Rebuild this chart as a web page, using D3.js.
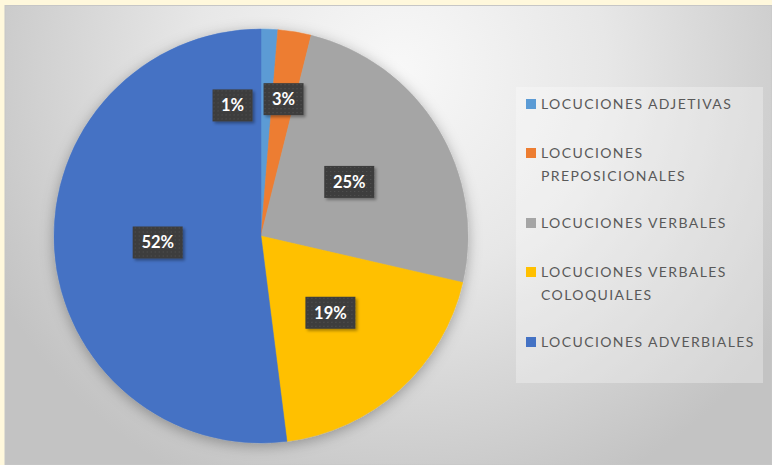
<!DOCTYPE html>
<html>
<head>
<meta charset="utf-8">
<script src="https://cdn.jsdelivr.net/npm/d3@7"></script>
<style>
  html, body { margin: 0; padding: 0; background: #fff8dc; }
  svg { display: block; }
</style>
</head>
<body>
<svg id="chart"></svg>
<script>
// data (percent of total, clockwise from 12 o'clock)
const categories = [
    "LOCUCIONES ADJETIVAS",
    "LOCUCIONES PREPOSICIONALES",
    "LOCUCIONES VERBALES",
    "LOCUCIONES VERBALES COLOQUIALES",
    "LOCUCIONES ADVERBIALES"
];
const values = [1.3, 2.6, 24.7, 19.4, 52.0];
const colors = ["#5b9bd5", "#ed7d31", "#a5a5a5", "#ffc000", "#4472c4"];
// legend text broken as in the picture
const legendLines = [
    ["LOCUCIONES ADJETIVAS"],
    ["LOCUCIONES", "PREPOSICIONALES"],
    ["LOCUCIONES VERBALES"],
    ["LOCUCIONES VERBALES", "COLOQUIALES"],
    ["LOCUCIONES ADVERBIALES"]
];

const width = 772;
const height = 465;
const cx = 261, cy = 236, radius = 207;

const svg = d3.select("#chart")
    .attr("width", width)
    .attr("height", height);

const defs = svg.append("defs");

// chart background gradient
const bg = defs.append("radialGradient")
    .attr("id", "bg")
    .attr("gradientUnits", "userSpaceOnUse")
    .attr("cx", 400).attr("cy", 70).attr("r", 460);
bg.append("stop").attr("offset", 0).attr("stop-color", "#f8f8f8");
bg.append("stop").attr("offset", 0.45).attr("stop-color", "#e7e7e7");
bg.append("stop").attr("offset", 1).attr("stop-color", "#c3c3c3");

const pieShadow = defs.append("filter").attr("id", "pieShadow")
    .attr("x", "-20%").attr("y", "-20%").attr("width", "140%").attr("height", "140%");
pieShadow.append("feDropShadow")
    .attr("dx", 0).attr("dy", 3).attr("stdDeviation", 7)
    .attr("flood-color", "#000").attr("flood-opacity", 0.3);

const boxShadow = defs.append("filter").attr("id", "boxShadow")
    .attr("x", "-30%").attr("y", "-30%").attr("width", "160%").attr("height", "160%");
boxShadow.append("feDropShadow")
    .attr("dx", 2).attr("dy", 2).attr("stdDeviation", 1.5)
    .attr("flood-color", "#000").attr("flood-opacity", 0.35);

// dotted texture of the label boxes
const dots = defs.append("pattern")
    .attr("id", "dots")
    .attr("patternUnits", "userSpaceOnUse")
    .attr("width", 4).attr("height", 4);
dots.append("rect").attr("width", 4).attr("height", 4).attr("fill", "#3d3d3d");
dots.append("rect").attr("x", 1).attr("y", 1).attr("width", 1).attr("height", 1).attr("fill", "#555");

svg.append("rect")
    .attr("x", 5).attr("y", 5.5)
    .attr("width", width - 5).attr("height", height - 5.5)
    .attr("fill", "url(#bg)")
    .attr("stroke", "#c6c6c6")
    .attr("stroke-width", 1);

// pie
const pie = d3.pie().sort(null).value(d => d);
const arcs = pie(values);
const arc = d3.arc().innerRadius(0).outerRadius(radius);

const g = svg.append("g").attr("transform", `translate(${cx},${cy})`);

g.append("g")
    .attr("filter", "url(#pieShadow)")
    .selectAll("path")
    .data(arcs)
    .enter()
    .append("path")
    .attr("d", arc)
    .attr("fill", (d, i) => colors[i])
    .attr("stroke", (d, i) => colors[i])
    .attr("stroke-width", 0.5);

// data labels: centroid at half radius, small slices pushed outward
const labelArc = d3.arc().innerRadius(radius * 0.5).outerRadius(radius * 0.5);
const outerLabelArc = d3.arc().innerRadius(radius * 0.67).outerRadius(radius * 0.67);
const boxH = 32;
const boxW = d => d.data >= 9.5 ? 50 : 40;

const labels = arcs.map(d => {
    const small = d.data < 5;
    const [x, y] = small ? outerLabelArc.centroid(d) : labelArc.centroid(d);
    return { d, x, y, w: boxW(d) };
});
// simple overlap fix: move earlier small label left/down from the next one
for (let i = labels.length - 2; i >= 0; i--) {
    const a = labels[i], b = labels[i + 1];
    const overlapX = (a.w + b.w) / 2 + 4 - Math.abs(a.x - b.x);
    const overlapY = boxH - Math.abs(a.y - b.y);
    if (overlapX > 0 && overlapY > 0) {
        a.x = b.x - (a.w + b.w) / 2 - 11;
        a.y = a.y + 8;
    }
}

const lab = g.append("g")
    .selectAll("g")
    .data(labels)
    .enter()
    .append("g")
    .attr("transform", l => `translate(${l.x},${l.y})`);

lab.append("rect")
    .attr("x", l => -l.w / 2)
    .attr("y", -boxH / 2)
    .attr("width", l => l.w)
    .attr("height", boxH)
    .attr("fill", "url(#dots)")
    .attr("filter", "url(#boxShadow)");

lab.append("text")
    .attr("text-anchor", "middle")
    .attr("dy", "0.36em")
    .attr("fill", "#ffffff")
    .style("font-family", "Lato, 'Open Sans', sans-serif")
    .style("font-weight", "bold")
    .style("font-size", "16.5px")
    .text(l => d3.format(".0f")(l.d.data) + "%");

// legend
const legend = svg.append("g");
legend.append("rect")
    .attr("x", 516).attr("y", 87)
    .attr("width", 247).attr("height", 296)
    .attr("fill", "#ffffff")
    .attr("fill-opacity", 0.3);

const itemY = d3.scalePoint()
    .domain(categories)
    .range([104.5, 342.5]);
const lineH = 23;

const item = legend.selectAll("g.item")
    .data(categories)
    .enter()
    .append("g")
    .attr("class", "item");

item.append("rect")
    .attr("x", 0).attr("y", -5.5)
    .attr("width", 10).attr("height", 10)
    .attr("fill", (d, i) => colors[i]);

item.each(function (d, i) {
    const lines = legendLines[i];
    const top = lines.length > 1 ? -lineH / 2 + 1 : 0;
    d3.select(this).attr("transform", `translate(526,${itemY(d) + top})`);
    d3.select(this).selectAll("text")
        .data(lines)
        .enter()
        .append("text")
        .attr("x", 15)
        .attr("y", (t, j) => j * lineH)
        .attr("dy", "0.35em")
        .attr("fill", "#595959")
        .style("font-family", "Lato, 'Open Sans', sans-serif")
        .style("font-size", "14px")
        .style("letter-spacing", "1.4px")
        .text(t => t);
});
</script>
</body>
</html>
